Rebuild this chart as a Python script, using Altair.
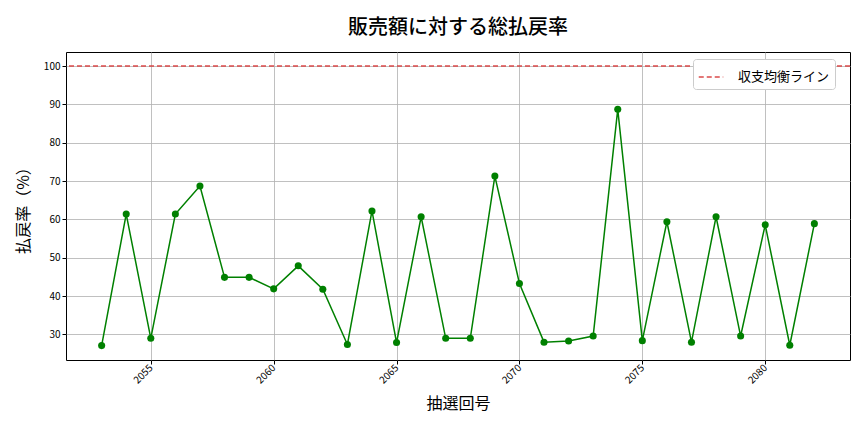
import altair as alt
import pandas as pd

draws = list(range(2053, 2083))
rates = [27.1, 61.4, 29.0, 61.4, 68.7, 44.9, 44.9, 41.9, 47.9, 41.8,
         27.4, 62.2, 27.9, 60.7, 29.0, 29.0, 71.3, 43.3, 28.0, 28.3,
         29.6, 88.7, 28.4, 59.4, 28.0, 60.7, 29.6, 58.6, 27.2, 58.9]
x_ticks = [2055, 2060, 2065, 2070, 2075, 2080]
y_ticks = [30, 40, 50, 60, 70, 80, 90, 100]
breakeven = 100
legend_label = "収支均衡ライン"

title = "販売額に対する総払戻率"
x_title = "抽選回号"
y_title = "払戻率（%）"

df = pd.DataFrame({"draw": draws, "rate": rates})
ref = pd.DataFrame({"y": [breakeven], "label": [legend_label]})

FONT = "Noto Sans CJK JP"

xscale = alt.Scale(domain=[2051.55, 2083.45], nice=False, zero=False)
yscale = alt.Scale(domain=[23.35, 103.65], nice=False, zero=False)

xaxis = alt.Axis(values=x_ticks, format="d", labelAngle=-45, labelFontSize=10, labelFont=FONT,
                 title=x_title, titleFontSize=16, titleFont=FONT, titleFontWeight="normal",
                 titlePadding=10, grid=True, gridColor="#b0b0b0", gridOpacity=0.8,
                 tickSize=4, tickColor="black", domain=False, labelColor="black",
                 labelAlign="right", labelBaseline="middle", labelPadding=2)
yaxis = alt.Axis(values=y_ticks, labelFontSize=10, labelFont=FONT,
                 title=y_title, titleFontSize=16, titleFont=FONT, titleFontWeight="normal",
                 titlePadding=12, grid=True, gridColor="#b0b0b0", gridOpacity=0.8,
                 tickSize=4, tickColor="black", domain=False, labelColor="black")

line = alt.Chart(df).mark_line(color="green", strokeWidth=1.5).encode(
    x=alt.X("draw:Q", scale=xscale, axis=xaxis),
    y=alt.Y("rate:Q", scale=yscale, axis=yaxis),
)
pts = alt.Chart(df).mark_point(filled=True, color="green", size=50, opacity=1).encode(
    x=alt.X("draw:Q", scale=xscale),
    y=alt.Y("rate:Q", scale=yscale),
)
rule = alt.Chart(ref).mark_rule(strokeDash=[5, 3], strokeWidth=1.5, opacity=0.9).encode(
    y=alt.Y("y:Q", scale=yscale),
    color=alt.Color("label:N", scale=alt.Scale(range=["#d83838"]),
                    legend=alt.Legend(title=None, orient="none", legendX=627, legendY=7,
                                      symbolType="stroke", symbolDash=[5, 3],
                                      symbolStrokeWidth=1.5, symbolSize=600,
                                      labelFont=FONT, labelFontSize=13,
                                      labelColor="black", labelOffset=14,
                                      fillColor="white", strokeColor="#cccccc",
                                      cornerRadius=3, padding=5)),
)

chart = alt.layer(rule, line, pts).properties(
    width=784, height=308,
    title=alt.TitleParams(title, fontSize=20, font=FONT, fontWeight=500,
                          anchor="middle", offset=14, color="black"),
    autosize=alt.AutoSizeParams(type="none"),
    padding={"left": 58, "top": 44, "right": 6, "bottom": 64},
).configure_view(stroke="black", strokeWidth=1)

chart.save("out.html", embed_options={"renderer": "svg", "actions": False})
